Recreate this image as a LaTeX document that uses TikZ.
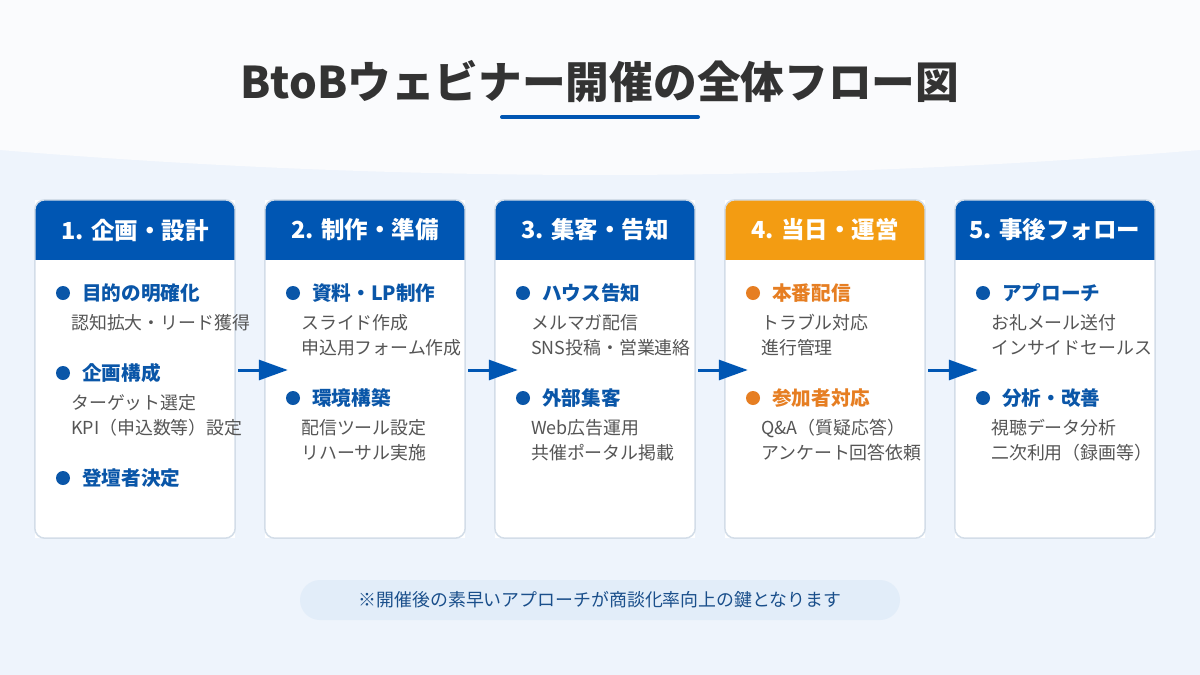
\documentclass[tikz,border=0pt]{standalone}
\usepackage{fontspec}
\setmainfont{Noto Sans CJK JP}
\usetikzlibrary{arrows.meta,calc}
\definecolor{bgtop}{HTML}{FAFBFD}
\definecolor{bgblue}{HTML}{EEF4FC}
\definecolor{titlecol}{HTML}{333333}
\definecolor{accent}{HTML}{0056B3}
\definecolor{hdrblue}{HTML}{0056B3}
\definecolor{hdrorange}{HTML}{F39C12}
\definecolor{headblue}{HTML}{0A56A8}
\definecolor{headorange}{HTML}{E67E22}
\definecolor{subcol}{HTML}{555555}
\definecolor{notefill}{HTML}{E2EDF9}
\definecolor{notetext}{HTML}{1A4F8B}
\definecolor{cardline}{HTML}{D3DDE8}
\newcommand\flowhead[5]{%
  \node[dot, fill=#4] (#1d) at (#2,#3) {};
  \node[headtxt, text=#4] (#1) at ($(#1d)+(19,0)$) {#5};}
\newcommand\flowsub[4]{%
  \node[subtxt] (#1) at (#2+8,#3) {#4};}
\begin{document}
\begin{tikzpicture}[x=1pt,y=-1pt,
  card/.style={minimum width=200pt, minimum height=338pt, inner sep=0pt, fill=white},
  hdrtext/.style={text=white, font=\fontsize{23.5}{26}\selectfont\bfseries},
  dot/.style={circle, minimum size=14pt, inner sep=0pt},
  headtxt/.style={anchor=west, inner sep=0pt, font=\fontsize{19.6}{22}\selectfont\bfseries},
  subtxt/.style={anchor=west, inner sep=0pt, text=subcol, font=\fontsize{17.9}{20}\selectfont},
  flowarrow/.style={draw=accent, line width=3pt, -{Triangle[length=29pt,width=20pt]}},
  note/.style={minimum width=600pt, minimum height=40pt, rounded corners=20pt, fill=notefill, text=notetext, font=\fontsize{17.9}{20}\selectfont}
]
\useasboundingbox (0,0) rectangle (1200,675);
\fill[bgblue] (0,0) rectangle (1200,675);
\fill[bgtop] (0,0) -- (1200,0) -- (1200,150) .. controls (800,183.3) and (400,183.3) .. (0,150) -- cycle;
\node[text=titlecol, font=\fontsize{43.7}{50}\selectfont\bfseries] (title) at (600,82) {BtoBウェビナー開催の全体フロー図};
\coordinate (ul1) at (502,117);
\coordinate (ul2) at (698,117);
\draw[accent, line width=4pt, line cap=round] (ul1) -- (ul2);
\foreach \i/\cx/\col/\ttl in {1/135/hdrblue/1. 企画・設計, 2/365/hdrblue/2. 制作・準備, 3/595/hdrblue/3. 集客・告知, 4/825/hdrorange/4. 当日・運営, 5/1055/hdrblue/5. 事後フォロー}{
  \node[card] (c\i) at (\cx,369) {};
  \begin{scope}
    \clip[rounded corners=10pt] (c\i.north west) rectangle (c\i.south east);
    \fill[\col] (c\i.north west) rectangle ($(c\i.north east)+(0,60)$);
  \end{scope}
  \draw[cardline, line width=1.5pt, rounded corners=10pt] (c\i.north west) rectangle (c\i.south east);
  \node[hdrtext] (h\i) at (\cx,230) {\ttl};
}
% box 1
\flowhead{a1}{63}{293}{headblue}{目的の明確化}
\flowsub{a1s1}{63}{323}{認知拡大・リード獲得}
\flowhead{a2}{63}{373}{headblue}{企画構成}
\flowsub{a2s1}{63}{403}{ターゲット選定}
\flowsub{a2s2}{63}{428}{KPI（申込数等）設定}
\flowhead{a3}{63}{478}{headblue}{登壇者決定}
% box 2
\flowhead{b1}{293}{293}{headblue}{資料・LP制作}
\flowsub{b1s1}{293}{323}{スライド作成}
\flowsub{b1s2}{293}{348}{申込用フォーム作成}
\flowhead{b2}{293}{398}{headblue}{環境構築}
\flowsub{b2s1}{293}{428}{配信ツール設定}
\flowsub{b2s2}{293}{453}{リハーサル実施}
% box 3
\flowhead{d1}{523}{293}{headblue}{ハウス告知}
\flowsub{d1s1}{523}{323}{メルマガ配信}
\flowsub{d1s2}{523}{348}{SNS投稿・営業連絡}
\flowhead{d2}{523}{398}{headblue}{外部集客}
\flowsub{d2s1}{523}{428}{Web広告運用}
\flowsub{d2s2}{523}{453}{共催ポータル掲載}
% box 4
\flowhead{e1}{753}{293}{headorange}{本番配信}
\flowsub{e1s1}{753}{323}{トラブル対応}
\flowsub{e1s2}{753}{348}{進行管理}
\flowhead{e2}{753}{398}{headorange}{参加者対応}
\flowsub{e2s1}{753}{428}{Q\&A（質疑応答）}
\flowsub{e2s2}{753}{453}{アンケート回答依頼}
% box 5
\flowhead{f1}{983}{293}{headblue}{アプローチ}
\flowsub{f1s1}{983}{323}{お礼メール送付}
\flowsub{f1s2}{983}{348}{インサイドセールス}
\flowhead{f2}{983}{398}{headblue}{分析・改善}
\flowsub{f2s1}{983}{428}{視聴データ分析}
\flowsub{f2s2}{983}{453}{二次利用（録画等）}
% arrows
\foreach \i/\j in {1/2,2/3,3/4,4/5}{
  \coordinate (s\i) at ($(c\i.east)+(3,1)$);
  \coordinate (t\i) at ($(c\j.west)+(23,1)$);
  \draw[flowarrow] (s\i) -- (t\i);
}
\node[note] (note) at (600,600) {※開催後の素早いアプローチが商談化率向上の鍵となります};
\end{tikzpicture}
\end{document}
